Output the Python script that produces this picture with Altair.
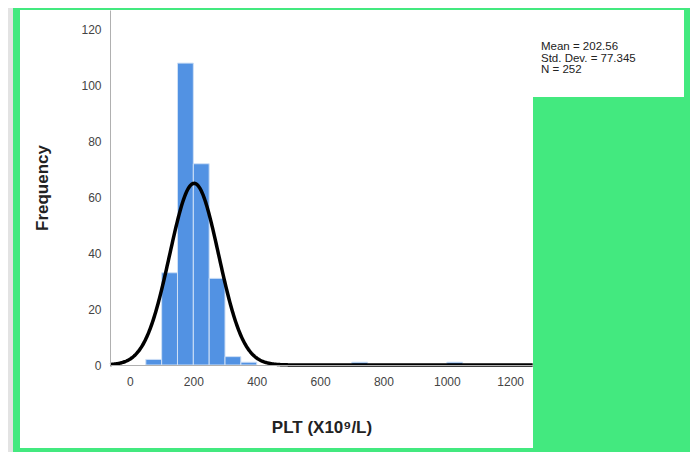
import altair as alt
import pandas as pd

# ---- data ----
bin_start = [50, 100, 150, 200, 250, 300, 350, 700, 1000]
counts = [2, 33, 108, 72, 31, 3, 1, 1, 1]
bin_width = 50
mean_val = 202.56
sd_val = 77.345
n_val = 252
x_ticks = [0, 200, 400, 600, 800, 1000, 1200]
y_ticks = [0, 20, 40, 60, 80, 100, 120]
stats_lines = ["Mean = 202.56", "Std. Dev. = 77.345", "N = 252"]

bars_df = pd.DataFrame({
    "start": bin_start,
    "end": [s + bin_width for s in bin_start],
    "count": counts,
})

GREEN = "#43E97F"
FONT = "Arial"

xscale = alt.Scale(domain=[-63, 1272], nice=False, zero=False)
yscale = alt.Scale(domain=[0, 127], nice=False)

dummy = alt.Data(values=[{"a": 1}])

# decorative frame pieces
gray_strip = alt.Chart(dummy).mark_rect(color="#e3e3e3", clip=False).encode(
    x=alt.value(-102), x2=alt.value(-97), y=alt.value(-2), y2=alt.value(444))
white_panel = alt.Chart(dummy).mark_rect(color="white", clip=False).encode(
    x=alt.value(-90), x2=alt.value(423), y=alt.value(0), y2=alt.value(438))
white_box = alt.Chart(dummy).mark_rect(color="white", clip=False).encode(
    x=alt.value(423), x2=alt.value(574), y=alt.value(0), y2=alt.value(87))

x_axis = alt.Axis(values=x_ticks, format="d", ticks=False, grid=False, domainColor="#b0b0b0",
                  labelColor="#444444", labelFontSize=12, labelFont=FONT, labelPadding=11,
                  title="PLT (X10⁹/L)", titleFont=FONT, titleFontSize=17, titleFontWeight="bold",
                  titleColor="#222222", titleBaseline="middle", titleY=62, zindex=1)
y_axis = alt.Axis(values=y_ticks, format="d", ticks=False, grid=False, domainColor="#b0b0b0",
                  labelColor="#444444", labelFontSize=12, labelFont=FONT, labelPadding=9,
                  title="Frequency", titleFont=FONT, titleFontSize=17, titleFontWeight="bold",
                  titleColor="#222222", titleX=-68, titleBaseline="middle", zindex=1)

bars = alt.Chart(bars_df).mark_rect(color="#5292E3", stroke="#cfe0f6", strokeWidth=1).encode(
    x=alt.X("start:Q", scale=xscale, axis=x_axis),
    x2="end:Q",
    y=alt.Y("count:Q", scale=yscale, axis=y_axis),
    y2=alt.datum(0),
)

curve = alt.Chart(alt.sequence(-63, 1273, 2, as_="x")).transform_calculate(
    y=f"{n_val} * {bin_width} * densityNormal(datum.x, {mean_val}, {sd_val})"
).mark_line(color="black", strokeWidth=3.5).encode(
    x=alt.X("x:Q", scale=xscale),
    y=alt.Y("y:Q", scale=yscale),
)

stats = alt.Chart(dummy).mark_text(align="left", baseline="top", font=FONT, text=stats_lines,
                                   lineHeight=11.5, fontSize=11.5, color="#222222", clip=False).encode(
    x=alt.value(431),
    y=alt.value(31),
)

chart = alt.layer(gray_strip, white_panel, white_box, bars, curve, stats).properties(
    width=423, height=355,
    background=GREEN,
    padding={"left": 102, "top": 2, "right": 157, "bottom": 87},
    autosize=alt.AutoSizeParams(type="none"),
).configure_view(strokeWidth=0)

chart.save("out.html", embed_options={"renderer": "svg", "actions": False})
